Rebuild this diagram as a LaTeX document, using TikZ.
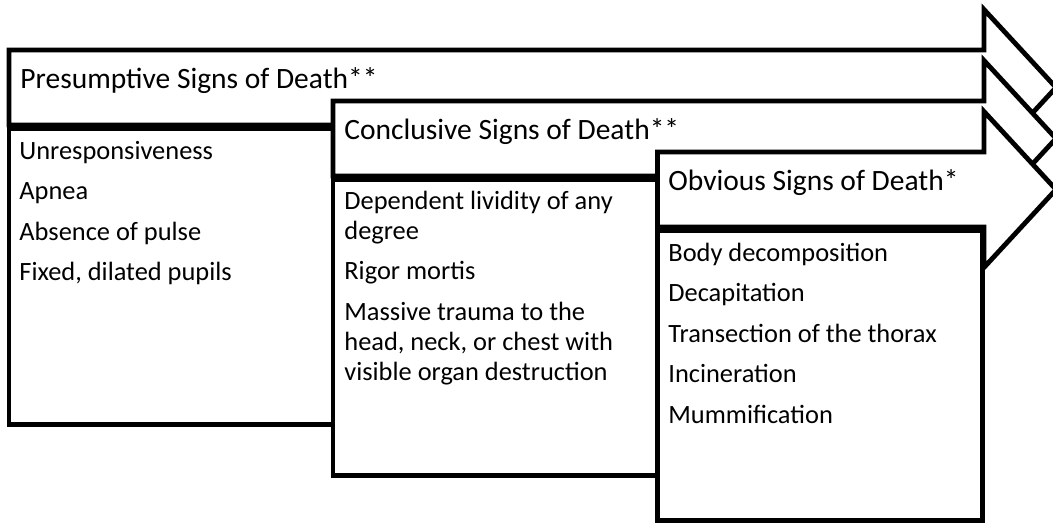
\documentclass[tikz,border=0pt]{standalone}
\usepackage{fontspec}
\setmainfont{Carlito}
\usepackage{tikz}
\newcommand{\signlist}[1]{\begin{tabular}[t]{@{}l@{}}#1\end{tabular}}

\begin{document}
\begin{tikzpicture}[x=1pt,y=-1pt,line width=4.8pt,
  hdr/.style={draw,fill=white,line join=miter},
  listbox/.style={draw,fill=white,line join=miter},
  htext/.style={anchor=base west,inner sep=0pt,font=\fontsize{29.5}{35}\selectfont},
  btext/.style={anchor=base west,inner sep=0pt,font=\fontsize{26.4}{30}\selectfont}]
\useasboundingbox (0,0) rectangle (1053,523);
\clip (0,0) rectangle (1053,523);
% presumptive
\draw[hdr] (9,50)--(984,50)--(984,9.5)--(1056,87.5)--(984,165.5)--(984,125)--(9,125)--cycle;
\draw[listbox] (9,129) rectangle (333,424.5);
\node[htext] (pre) at (18,88) {Presumptive Signs of Death**};
\node[btext] (prelist) at (17,159) {\signlist{Unresponsiveness\\[10.5pt]Apnea\\[10.5pt]Absence of pulse\\[10.5pt]Fixed, dilated pupils}};
% conclusive
\draw[hdr] (333,101)--(984,101)--(984,60.5)--(1056,138.5)--(984,216.5)--(984,176)--(333,176)--cycle;
\draw[listbox] (333,180) rectangle (657.5,475.5);
\node[htext] (con) at (342,139) {Conclusive Signs of Death**};
\node[btext] (conlist) at (342,209) {\signlist{Dependent lividity of any\\degree\\[10.5pt]Rigor mortis\\[10.5pt]Massive trauma to the\\head, neck, or chest with\\visible organ destruction}};
% obvious
\draw[hdr] (657.5,152)--(984,152)--(984,111.5)--(1056,189.5)--(984,267.5)--(984,227)--(657.5,227)--cycle;
\draw[listbox] (657.5,231) rectangle (982.5,520.5);
\node[htext] (obv) at (666,190) {Obvious Signs of Death*};
\node[btext] (obvlist) at (666,261) {\signlist{Body decomposition\\[10.5pt]Decapitation\\[10.5pt]Transection of the thorax\\[10.5pt]Incineration\\[10.5pt]Mummification}};
\end{tikzpicture}
\end{document}
